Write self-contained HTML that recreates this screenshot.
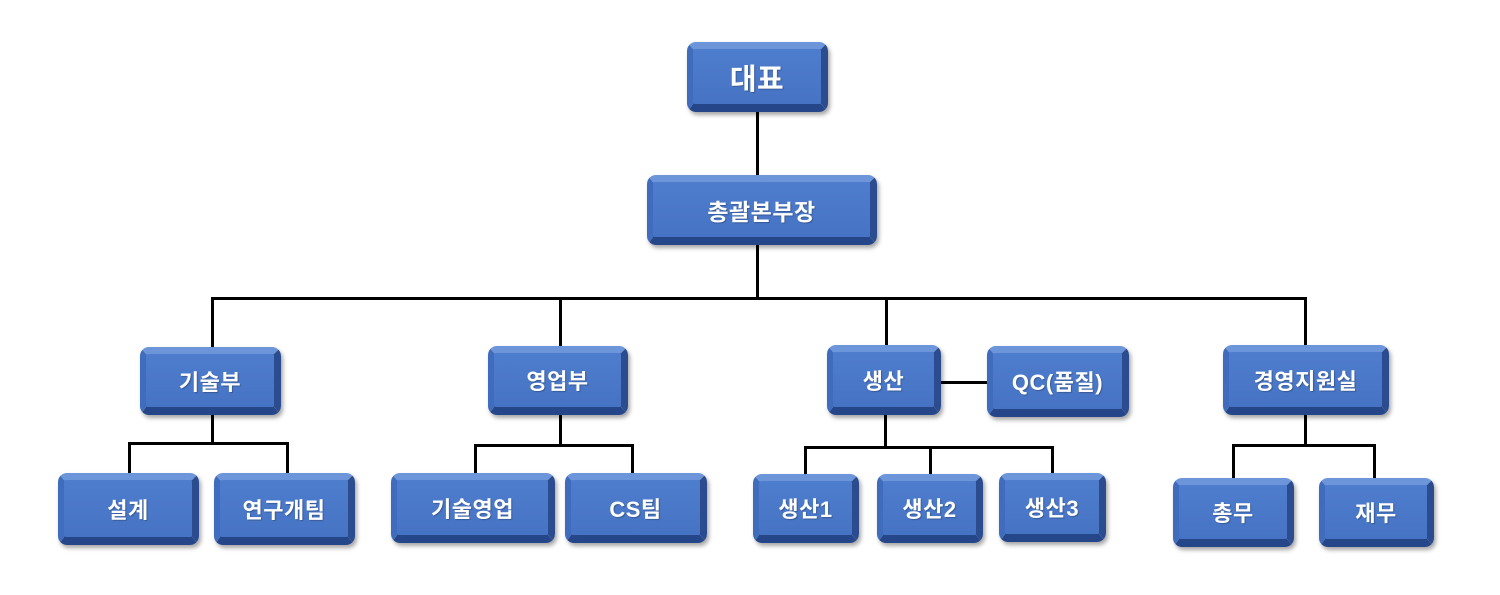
<!DOCTYPE html>
<html>
<head>
<meta charset="utf-8">
<style>
  html,body{margin:0;padding:0;background:#fff;}
  body{width:1500px;height:595px;position:relative;overflow:hidden;
       font-family:"Liberation Sans","Noto Sans CJK KR","NanumGothic",sans-serif;}
  .l{position:absolute;background:#000;}
  .b{position:absolute;box-sizing:border-box;
     background:linear-gradient(180deg,#4f7dcd 0%,#4673c4 100%);
     border-style:solid;
     border-width:7px 7px 8px 6px;
     border-color:#6d95da #2b4c8e #26468a #3f6cbd;
     border-radius:9px;
     box-shadow:2px 3px 4px rgba(0,0,0,0.35);
     color:#fff;font-weight:bold;font-size:22px;
     display:flex;align-items:center;justify-content:center;
     white-space:nowrap;letter-spacing:0.5px;
     text-shadow:1px 1px 1px rgba(0,0,0,0.25);}
</style>
</head>
<body>
<!-- connectors -->
<div class="l" style="left:756px;top:110px;width:3px;height:67px;"></div>
<div class="l" style="left:756px;top:244px;width:3px;height:55px;"></div>
<div class="l" style="left:211px;top:297px;width:1096px;height:3px;"></div>
<div class="l" style="left:211px;top:297px;width:3px;height:51px;"></div>
<div class="l" style="left:559px;top:297px;width:3px;height:51px;"></div>
<div class="l" style="left:885px;top:297px;width:3px;height:50px;"></div>
<div class="l" style="left:1304px;top:297px;width:3px;height:50px;"></div>

<!-- 기술부 children -->
<div class="l" style="left:211px;top:413px;width:3px;height:31px;"></div>
<div class="l" style="left:128px;top:442px;width:161px;height:3px;"></div>
<div class="l" style="left:128px;top:442px;width:3px;height:33px;"></div>
<div class="l" style="left:286px;top:442px;width:3px;height:33px;"></div>

<!-- 영업부 children -->
<div class="l" style="left:559px;top:413px;width:3px;height:33px;"></div>
<div class="l" style="left:474px;top:444px;width:160px;height:3px;"></div>
<div class="l" style="left:474px;top:444px;width:3px;height:31px;"></div>
<div class="l" style="left:631px;top:444px;width:3px;height:31px;"></div>

<!-- 생산 -->
<div class="l" style="left:939px;top:381px;width:50px;height:3px;"></div>
<div class="l" style="left:884px;top:413px;width:3px;height:35px;"></div>
<div class="l" style="left:804px;top:446px;width:250px;height:3px;"></div>
<div class="l" style="left:804px;top:446px;width:3px;height:30px;"></div>
<div class="l" style="left:929px;top:446px;width:3px;height:30px;"></div>
<div class="l" style="left:1051px;top:446px;width:3px;height:29px;"></div>

<!-- 경영지원실 -->
<div class="l" style="left:1304px;top:413px;width:3px;height:33px;"></div>
<div class="l" style="left:1232px;top:444px;width:144px;height:3px;"></div>
<div class="l" style="left:1232px;top:444px;width:3px;height:36px;"></div>
<div class="l" style="left:1373px;top:444px;width:3px;height:36px;"></div>

<!-- boxes -->
<div class="b" style="left:687px;top:42px;width:141px;height:70px;font-size:29px;">대표</div>
<div class="b" style="left:647px;top:175px;width:230px;height:70px;font-size:23px;">총괄본부장</div>

<div class="b" style="left:140px;top:347px;width:141px;height:68px;">기술부</div>
<div class="b" style="left:488px;top:346px;width:140px;height:69px;">영업부</div>
<div class="b" style="left:827px;top:345px;width:114px;height:70px;">생산</div>
<div class="b" style="left:987px;top:346px;width:142px;height:71px;">QC(품질)</div>
<div class="b" style="left:1223px;top:345px;width:166px;height:70px;">경영지원실</div>

<div class="b" style="left:58px;top:473px;width:141px;height:72px;">설계</div>
<div class="b" style="left:214px;top:473px;width:141px;height:72px;">연구개팀</div>
<div class="b" style="left:391px;top:473px;width:164px;height:70px;">기술영업</div>
<div class="b" style="left:565px;top:473px;width:142px;height:70px;">CS팀</div>

<div class="b" style="left:753px;top:474px;width:106px;height:69px;">생산1</div>
<div class="b" style="left:877px;top:474px;width:106px;height:69px;">생산2</div>
<div class="b" style="left:999px;top:473px;width:107px;height:69px;">생산3</div>

<div class="b" style="left:1173px;top:478px;width:121px;height:69px;">총무</div>
<div class="b" style="left:1319px;top:478px;width:115px;height:69px;">재무</div>
</body>
</html>
